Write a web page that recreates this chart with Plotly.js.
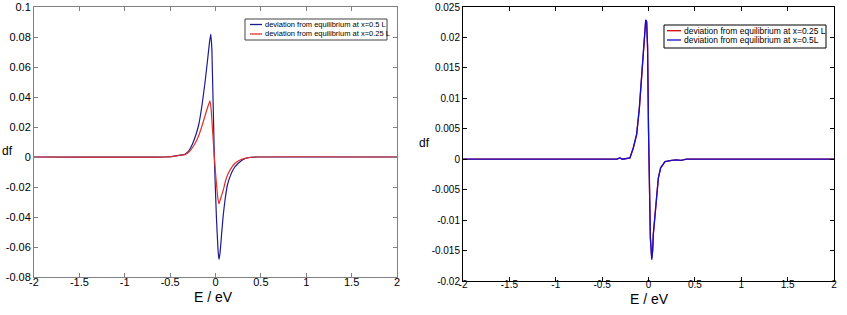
<!DOCTYPE html>
<html><head><meta charset="utf-8">
<script src="https://cdn.plot.ly/plotly-3.0.1.min.js"></script>
<style>html,body{margin:0;padding:0;background:#fff}#c{width:847px;height:315px}</style>
</head><body><div id="c"></div>
<script>
// Left panel
const leftBlueName = 'deviation from equilibrium at x=0.5 L';
const leftRedName = 'deviation from equilibrium at x=0.25 L';
const leftBlueE = [-2,-0.55,-0.43,-0.39,-0.336,-0.29,-0.255,-0.215,-0.185,-0.15,-0.115,-0.085,-0.065,-0.052,-0.04,-0.013,0.01,0.028,0.038,0.05,0.068,0.085,0.105,0.13,0.16,0.2,0.251,0.3,0.36,0.47,2];
const leftBlueDf = [0,0,0.0007,0.0012,0.0018,0.0045,0.0085,0.015,0.0215,0.034,0.05,0.066,0.077,0.082,0.072,0.0,-0.04,-0.062,-0.0682,-0.064,-0.0509,-0.039,-0.0287,-0.019,-0.0131,-0.0078,-0.0042,-0.0018,-0.0004,0,0];
const leftRedE = [-2,-0.55,-0.43,-0.39,-0.336,-0.29,-0.24,-0.19,-0.15,-0.115,-0.085,-0.07,-0.06,-0.047,-0.013,0.005,0.025,0.038,0.05,0.065,0.086,0.11,0.141,0.175,0.215,0.27,0.325,0.45,2];
const leftRedDf = [0,0,0.0007,0.0012,0.0016,0.0035,0.0075,0.0135,0.0205,0.0275,0.0335,0.036,0.0375,0.031,0.0,-0.014,-0.027,-0.0313,-0.029,-0.026,-0.022,-0.016,-0.0109,-0.0072,-0.0042,-0.002,-0.0009,0,0];
// Right panel
const rightRedName = 'deviation from equilibrium at x=0.25 L';
const rightBlueName = 'deviation from equilibrium at x=0.5L';
const rightRedE = [-2,-0.34,-0.31,-0.28,-0.2,-0.164,-0.128,-0.099,-0.073,-0.056,-0.038,-0.03,-0.02,-0.01,0.0,0.005,0.02,0.035,0.045,0.052,0.07,0.088,0.106,0.131,0.178,0.25,0.3,0.35,0.41,0.45,2];
const rightRedDf = [0,0,0.0002,0,0.0002,0.0018,0.0040,0.0082,0.0137,0.0176,0.0220,0.0228,0.0225,0.0183,0.005,-0.002,-0.0128,-0.0162,-0.0148,-0.0122,-0.0089,-0.0057,-0.0031,-0.0014,-0.0004,-0.0002,-0.0001,-0.0002,0,0,0];
const rightBlueE = [-2,-0.34,-0.31,-0.28,-0.2,-0.164,-0.128,-0.099,-0.073,-0.056,-0.038,-0.03,-0.02,-0.01,0.0,0.005,0.02,0.035,0.045,0.052,0.07,0.088,0.106,0.131,0.178,0.25,0.3,0.35,0.41,0.45,2];
const rightBlueDf = [0,0,0.0002,0,0.0002,0.0019,0.0041,0.0084,0.0139,0.0177,0.0221,0.0229,0.0226,0.0185,0.005,-0.002,-0.013,-0.0165,-0.015,-0.0124,-0.009,-0.0058,-0.0031,-0.0014,-0.0004,-0.0002,-0.0001,-0.0002,0,0,0];
// Ticks
const xTickVals = [-2,-1.5,-1,-0.5,0,0.5,1,1.5,2];
const xTickText = ['-2','-1.5','-1','-0.5','0','0.5','1','1.5','2'];
const y1TickVals = [0.1,0.08,0.06,0.04,0.02,0,-0.02,-0.04,-0.06,-0.08];
const y1TickText = ['0.1','0.08','0.06','0.04','0.02','0','-0.02','-0.04','-0.06','-0.08'];
const y2TickVals = [0.025,0.02,0.015,0.01,0.005,0,-0.005,-0.01,-0.015,-0.02];
const y2TickText = ['0.025','0.02','0.015','0.01','0.005','0','-0.005','-0.01','-0.015','-0.02'];

const W=847,H=315;
const C = {lb:'#1c1c8c', lr:'#e0302a', rr:'#e00000', rb:'#1010d0'};
const traces = [
 {x:leftBlueE,y:leftBlueDf,name:leftBlueName,mode:'lines',line:{color:C.lb,width:1.2,shape:'spline',smoothing:0.4},xaxis:'x',yaxis:'y'},
 {x:leftRedE,y:leftRedDf,name:leftRedName,mode:'lines',line:{color:C.lr,width:1.2,shape:'spline',smoothing:0.4},xaxis:'x',yaxis:'y'},
 {x:rightRedE,y:rightRedDf,name:rightRedName,mode:'lines',line:{color:C.rr,width:1.3},xaxis:'x2',yaxis:'y2'},
 {x:rightBlueE,y:rightBlueDf,name:rightBlueName,mode:'lines',line:{color:C.rb,width:1.3},xaxis:'x2',yaxis:'y2'}
];
const font = {family:'Liberation Sans, Arial, sans-serif',color:'#000'};
const narrow = {family:'Liberation Sans Narrow, Arial Narrow, Liberation Sans, sans-serif',color:'#000'};
function ax(extra){return Object.assign({showgrid:false,zeroline:false,showline:true,mirror:'allticks',ticks:'inside',ticklen:4,tickcolor:'#808080',linecolor:'#808080',linewidth:1,tickmode:'array',ticklabelstandoff:-5,tickfont:Object.assign({size:11},font)},extra);}
const px = v=>v/W, py = v=>(H-v)/H;
function legendBox(x0,y0,x1,y1,color){return {type:'rect',xref:'paper',yref:'paper',x0:px(x0),x1:px(x1),y0:py(y0),y1:py(y1),line:{color:color,width:1},fillcolor:'#fff',layer:'above'};}
function legendLine(x0,x1,y,color){return {type:'line',xref:'paper',yref:'paper',x0:px(x0),x1:px(x1),y0:py(y),y1:py(y),line:{color:color,width:1.3},layer:'above'};}
function legendText(t,x,y,size){return {text:t,xref:'paper',yref:'paper',x:px(x),y:py(y),xanchor:'left',yanchor:'middle',showarrow:false,font:Object.assign({size:size},narrow)};}
const layout = {
 width:W,height:H,margin:{l:0,r:0,t:0,b:0},paper_bgcolor:'#fff',plot_bgcolor:'#fff',font:font,showlegend:false,
 xaxis:ax({domain:[34/W,397/W],range:[-2,2],tickvals:xTickVals,ticktext:xTickText,anchor:'y'}),
 yaxis:ax({domain:[(H-277)/H,(H-7)/H],range:[-0.08,0.1],tickvals:y1TickVals,ticktext:y1TickText,anchor:'x',ticklabelstandoff:0}),
 xaxis2:ax({domain:[463/W,834/W],range:[-2,2],tickvals:xTickVals,ticktext:xTickText,anchor:'y2',linecolor:'#000',tickcolor:'#000',ticklabelstandoff:-6,tickfont:Object.assign({size:10},font)}),
 yaxis2:ax({domain:[(H-281)/H,(H-7)/H],range:[-0.02,0.025],tickvals:y2TickVals,ticktext:y2TickText,anchor:'x2',linecolor:'#000',tickcolor:'#000',ticklabelstandoff:0,tickfont:Object.assign({size:10},font)}),
 shapes:[
  legendBox(245,19,387,40,'#444'),
  legendLine(250,262,24.5,C.lb),
  legendLine(250,262,34,C.lr),
  legendBox(664,25,826,48,'#000'),
  legendLine(667,681,30.7,C.rr),
  legendLine(667,681,40,C.rb)
 ],
 annotations:[
  legendText(leftBlueName,263,24.5,7.5),
  legendText(leftRedName,263,34,7.5),
  legendText(rightRedName,682,30.7,8.5),
  legendText(rightBlueName,682,40,8.5),
  {text:'E / eV',xref:'paper',yref:'paper',x:213/W,y:(H-297)/H,xanchor:'center',yanchor:'middle',showarrow:false,font:Object.assign({size:14},font)},
  {text:'E / eV',xref:'paper',yref:'paper',x:649/W,y:(H-299)/H,xanchor:'center',yanchor:'middle',showarrow:false,font:Object.assign({size:14},font)},
  {text:'df',xref:'paper',yref:'paper',x:7/W,y:(H-150.5)/H,xanchor:'center',yanchor:'middle',showarrow:false,font:Object.assign({size:12},font)},
  {text:'df',xref:'paper',yref:'paper',x:424/W,y:(H-143)/H,xanchor:'center',yanchor:'middle',showarrow:false,font:Object.assign({size:12},font)}
 ]
};
Plotly.newPlot('c',traces,layout,{staticPlot:true});
</script></body></html>
